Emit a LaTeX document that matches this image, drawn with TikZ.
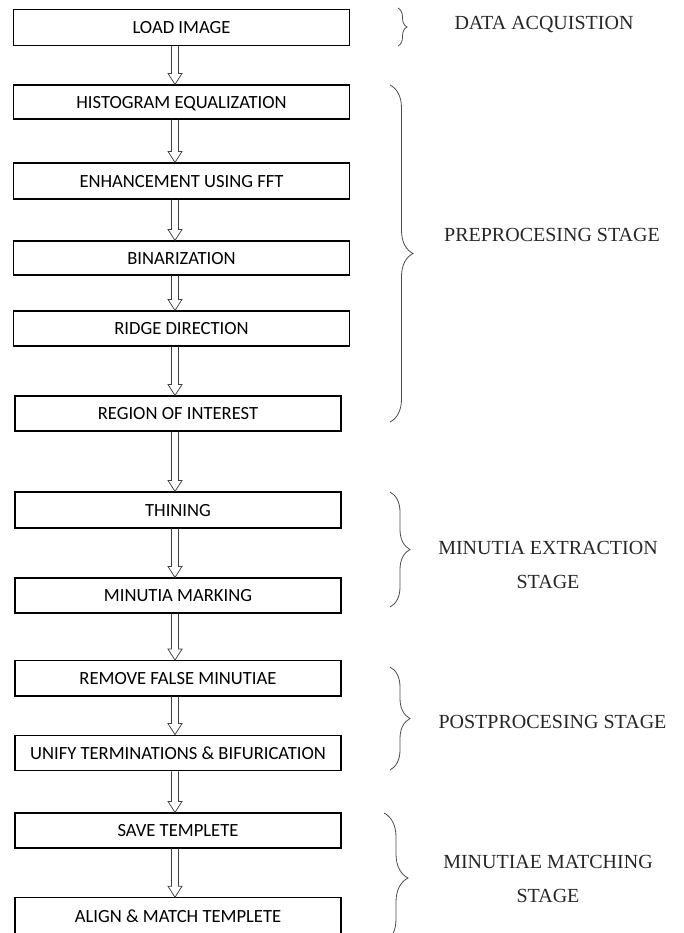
\documentclass[tikz,border=0pt]{standalone}
\usepackage{fontspec}
\setmainfont{Liberation Serif}
\newfontfamily\boxfont{Carlito}
\usetikzlibrary{calc,decorations.pathreplacing}
\tikzset{
  stepbox/.style={draw, line width=1.1pt, inner sep=0pt, text height=12.5pt, text depth=0pt,
    font=\boxfont\fontsize{18.6}{21}\selectfont},
  widebox/.style={stepbox, minimum width=336pt},
  narrowbox/.style={stepbox, minimum width=326pt},
  hollowarrow/.style={draw=black!75, line width=0.75pt},
  stagebrace/.style={decorate, decoration={brace, amplitude=#1}, draw=black!70, line width=0.8pt},
  stagelabel/.style={font=\fontsize{20}{34}\selectfont, align=center, text=black!85}
}
\newcommand\flowarrow[2]{%
  \path[hollowarrow] let \p1=(#1.south -| spine), \p2=(#2.north -| spine) in
    (\x1-3.5pt,\y1) -- (\x1-3.5pt,\y2+11pt) -- (\x1-7pt,\y2+11pt) -- (\x2,\y2)
    -- (\x1+7pt,\y2+11pt) -- (\x1+3.5pt,\y2+11pt) -- (\x1+3.5pt,\y1);}
\begin{document}
\begin{tikzpicture}[x=1pt,y=-1pt]
\path[use as bounding box] (0,0) rectangle (683,933);
\clip (0,0) rectangle (683,933);
\coordinate (spine) at (175,0);
% boxes
\node[widebox, minimum height=36.4pt] (load) at (181.5,27.5) {LOAD IMAGE};
\node[widebox, minimum height=34pt] (hist) at (181.5,102) {HISTOGRAM EQUALIZATION};
\node[widebox, minimum height=36pt] (enh) at (181.5,181) {ENHANCEMENT USING FFT};
\node[widebox, minimum height=34pt] (bin) at (181.5,258) {BINARIZATION};
\node[widebox, minimum height=35pt] (ridge) at (181.5,328.5) {RIDGE DIRECTION};
\node[narrowbox, minimum height=35pt] (roi) at (178,413.5) {REGION OF INTEREST\hspace{12pt}};
\node[narrowbox, minimum height=36pt] (thin) at (178,510) {THINING};
\node[narrowbox, minimum height=35pt] (mark) at (178,595.5) {MINUTIA MARKING};
\node[narrowbox, minimum height=35.3pt] (remove) at (178,678.3) {REMOVE FALSE MINUTIAE};
\node[narrowbox, minimum height=35.7pt] (unify) at (178,753) {UNIFY TERMINATIONS \& BIFURICATION\hspace{11pt}};
\node[narrowbox, minimum height=35pt] (save) at (178,830.5) {SAVE TEMPLETE};
\node[narrowbox, minimum height=37pt] (align) at (178,916.3) {ALIGN \& MATCH TEMPLETE\hspace{15pt}};
% arrows
\flowarrow{load}{hist}
\flowarrow{hist}{enh}
\flowarrow{enh}{bin}
\flowarrow{bin}{ridge}
\flowarrow{ridge}{roi}
\flowarrow{roi}{thin}
\flowarrow{thin}{mark}
\flowarrow{mark}{remove}
\flowarrow{remove}{unify}
\flowarrow{unify}{save}
\flowarrow{save}{align}
% braces
\coordinate (b1t) at (398,8);   \coordinate (b1b) at (398,46);
\coordinate (b2t) at (390,85);  \coordinate (b2b) at (390,422);
\coordinate (b3t) at (390,492); \coordinate (b3b) at (390,607);
\coordinate (b4t) at (390,667); \coordinate (b4b) at (390,770);
\coordinate (b5t) at (384,813); \coordinate (b5b) at (384,943);
\draw[stagebrace=9] (b1t) -- (b1b);
\draw[stagebrace=23] (b2t) -- (b2b);
\draw[stagebrace=20] (b3t) -- (b3b);
\draw[stagebrace=20] (b4t) -- (b4b);
\draw[stagebrace=24] (b5t) -- (b5b);
% labels
\node[stagelabel] (lab1) at (544,25) {DATA ACQUISTION};
\node[stagelabel] (lab2) at (552,235) {PREPROCESING STAGE};
\node[stagelabel] (lab3) at (548,565) {MINUTIA EXTRACTION\\STAGE};
\node[stagelabel] (lab4) at (552.5,722) {POSTPROCESING STAGE};
\node[stagelabel] (lab5) at (548,879) {MINUTIAE MATCHING\\STAGE};
\end{tikzpicture}
\end{document}
